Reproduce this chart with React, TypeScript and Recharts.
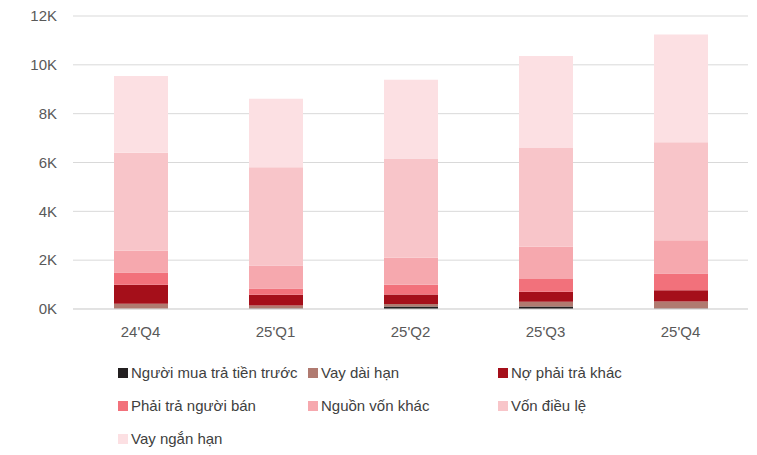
import React from 'react';
import { BarChart, Bar, XAxis, YAxis, CartesianGrid, Legend } from 'recharts';

const quarters = ["24'Q4", "25'Q1", "25'Q2", "25'Q3", "25'Q4"];

const nguoiMuaTraTienTruoc = [10, 20, 100, 100, 20];
const vayDaiHan = [200, 120, 100, 200, 290];
const noPhaiTraKhac = [780, 440, 390, 410, 460];
const phaiTraNguoiBan = [500, 260, 400, 520, 680];
const nguonVonKhac = [900, 940, 1110, 1320, 1370];
const vonDieuLe = [4010, 4030, 4060, 4040, 4010];
const vayNganHan = [3140, 2800, 3230, 3770, 4410];

const yTicks = [0, 2000, 4000, 6000, 8000, 10000, 12000];

const series = [
  { key: 'a', name: 'Người mua trả tiền trước', color: '#231f20', values: nguoiMuaTraTienTruoc },
  { key: 'b', name: 'Vay dài hạn', color: '#b07a70', values: vayDaiHan },
  { key: 'c', name: 'Nợ phải trả khác', color: '#a50f1a', values: noPhaiTraKhac },
  { key: 'd', name: 'Phải trả người bán', color: '#f2717b', values: phaiTraNguoiBan },
  { key: 'e', name: 'Nguồn vốn khác', color: '#f6a8ae', values: nguonVonKhac },
  { key: 'f', name: 'Vốn điều lệ', color: '#f8c5c9', values: vonDieuLe },
  { key: 'g', name: 'Vay ngắn hạn', color: '#fce0e3', values: vayNganHan },
];

const data = quarters.map((q, i) => {
  const row: any = { quarter: q };
  series.forEach(s => { row[s.key] = s.values[i]; });
  return row;
});

const font = '"Liberation Sans", Arial, sans-serif';

const LegendBox = () => (
  <div style={{ display: 'grid', gridTemplateColumns: '190px 190px 190px', paddingLeft: 118, fontFamily: font }}>
    {series.map(s => (
      <div key={s.key} style={{ display: 'flex', alignItems: 'center', height: 33, fontSize: 15, color: '#404040', whiteSpace: 'nowrap' }}>
        <span style={{ display: 'inline-block', width: 10, height: 10, background: s.color, marginRight: 3 }} />
        {s.name}
      </div>
    ))}
  </div>
);

export default function App() {
  return (
    <div style={{ position: 'absolute', left: 0, top: 0, background: '#fff' }}>
      <BarChart
        width={757}
        height={455}
        data={data}
        margin={{ top: 16, right: 9, left: 0, bottom: 0 }}
        barSize={54}
      >
        <CartesianGrid vertical={false} stroke="#d9d9d9" />
        <XAxis
          dataKey="quarter"
          height={47}
          axisLine={{ stroke: '#d9d9d9' }}
          tickLine={false}
          tick={{ fill: '#595959', fontSize: 15, fontFamily: font }}
          tickMargin={11}
        />
        <YAxis
          width={73}
          domain={[0, 12000]}
          ticks={yTicks}
          tickFormatter={(v: number) => `${v / 1000}K`}
          axisLine={false}
          tickLine={false}
          tick={{ fill: '#595959', fontSize: 15, fontFamily: font }}
          tickMargin={10}
        />
        <Legend verticalAlign="bottom" content={<LegendBox />} />
        {series.map(s => (
          <Bar key={s.key} dataKey={s.key} name={s.name} stackId="1" fill={s.color} isAnimationActive={false} />
        ))}
      </BarChart>
    </div>
  );
}
